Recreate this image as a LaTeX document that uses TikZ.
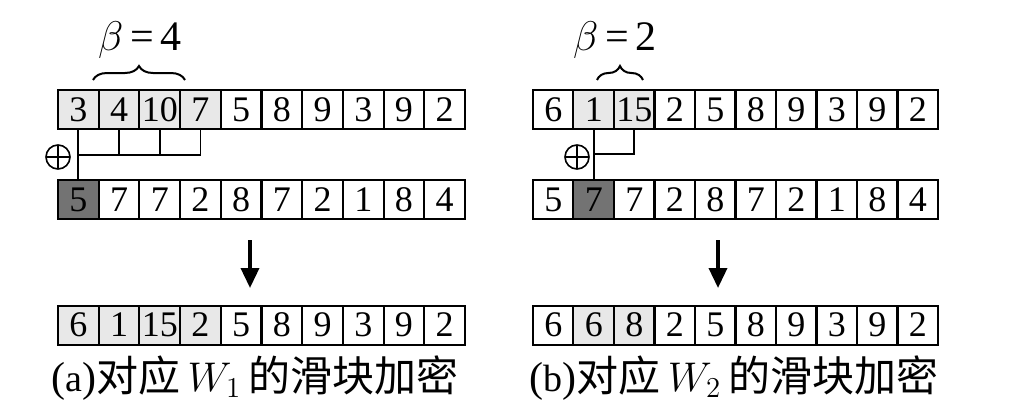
\documentclass[tikz,border=0pt]{standalone}
\usepackage{fontspec}
\setmainfont{Liberation Serif}
\newfontfamily\cjk{Noto Sans CJK SC}
\usetikzlibrary{arrows.meta, positioning, decorations.pathreplacing}

\begin{document}
\begin{tikzpicture}[
  x=0.5pt, y=-0.5pt,
  cell/.style={draw=black, line width=1pt, minimum width=20.3pt, minimum height=19.5pt,
    inner sep=0pt, font=\fontsize{18}{20}\selectfont},
  lite/.style={cell, fill=black!9},
  dark/.style={cell, fill=black!55},
  wire/.style={draw=black, line width=0.9pt},
  xor/.style={circle, draw, line width=0.8pt, minimum size=12pt, inner sep=0pt,
    path picture={\draw[line width=0.8pt] (path picture bounding box.north) -- (path picture bounding box.south)
    (path picture bounding box.west) -- (path picture bounding box.east);}},
  down/.style={-{Triangle[length=10pt,width=9pt]}, line width=1.8pt},
  brk/.style={decorate, decoration={brace, amplitude=7pt}, line width=1pt},
  captext/.style={font=\fontsize{21}{24}\selectfont}
]
\useasboundingbox (0,0) rectangle (1032,413);

% (a) rows
\foreach \v [count=\i] in {3,4,10,7,5,8,9,3,9,2}{
  \ifnum\i<5 \def\st{lite}\else\def\st{cell}\fi
  \node[\st] (at\i) at (58+40.7*\i-20.35,109.5) {\v};}
\foreach \v [count=\i] in {5,7,7,2,8,7,2,1,8,4}{
  \ifnum\i<2 \def\st{dark}\else\def\st{cell}\fi
  \node[\st] (ab\i) at (58+40.7*\i-20.35,199.5) {\v};}
\foreach \v [count=\i] in {6,1,15,2,5,8,9,3,9,2}{
  \ifnum\i<5 \def\st{lite}\else\def\st{cell}\fi
  \node[\st] (ar\i) at (58+40.7*\i-20.35,325) {\v};}

% (b) rows
\foreach \v [count=\i] in {6,1,15,2,5,8,9,3,9,2}{
  \def\st{cell}\ifnum\i>1 \ifnum\i<4 \def\st{lite}\fi\fi
  \node[\st] (bt\i) at (533+40.5*\i-20.25,109.5) {\v};}
\foreach \v [count=\i] in {5,7,7,2,8,7,2,1,8,4}{
  \def\st{cell}\ifnum\i>1 \ifnum\i<3 \def\st{dark}\fi\fi
  \node[\st] (bb\i) at (533+40.5*\i-20.25,199.5) {\v};}
\foreach \v [count=\i] in {6,6,8,2,5,8,9,3,9,2}{
  \def\st{cell}\ifnum\i>1 \ifnum\i<4 \def\st{lite}\fi\fi
  \node[\st] (br\i) at (533+40.5*\i-20.25,325) {\v};}

% xor wiring
\coordinate (aj) at (at1.south |- 0,155);
\coordinate (bj) at (bt2.south |- 0,154);
\draw[wire] (at1.south) -- (ab1.north);
\foreach \k in {2,3,4}
  \draw[wire] (at\k.south) |- (aj);
\draw[wire] (bt2.south) -- (bb2.north);
\draw[wire] (bt3.south) |- (bj);
\node[xor] (ax) at (58,157) {};
\node[xor] (bx) at (577,157) {};

% windows
\draw[brk] (93,80) -- (185,80);
\node[captext] (abeta) at (140,40) {$\beta$\,=\,4};
\draw[brk] (597,80) -- (643,80);
\node[captext] (bbeta) at (615,40) {$\beta$\,=\,2};

% arrows
\coordinate (aa) at (250,240);
\coordinate (ba) at (718,240);
\draw[down] (aa) -- ++(0,48);
\draw[down] (ba) -- ++(0,48);

% captions
\node[captext] (acap) at (255,378) {({\fontsize{19}{22}\selectfont a}){\cjk 对应}\,$W_1$\,{\cjk 的滑块加密}};
\node[captext] (bcap) at (734,378) {({\fontsize{19}{22}\selectfont b}){\cjk 对应}\,$W_2$\,{\cjk 的滑块加密}};
\end{tikzpicture}
\end{document}
